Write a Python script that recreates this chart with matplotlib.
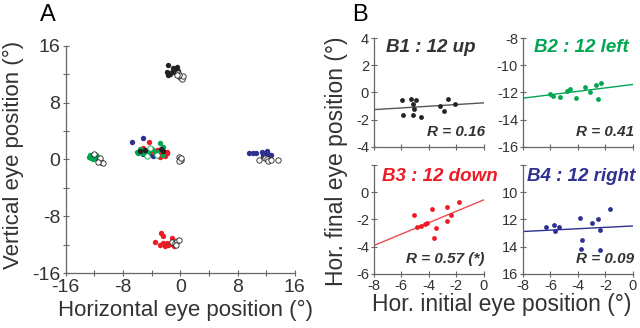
import numpy as np
import matplotlib
matplotlib.use("Agg")
import matplotlib.pyplot as plt

plt.rcParams["font.family"] = ["Liberation Sans", "DejaVu Sans"]
plt.rcParams["axes.unicode_minus"] = False

BLACK = "#222222"
GREEN = "#00a651"
RED = "#ed1c24"
BLUE = "#2e3192"
GREY = "#333333"
SPINE = "#666666"

# ---------------------------------------------------------------- panel A data
# final positions (filled) and target positions (open), per saccade direction
up_x = [-1.65, -1.89, -1.42, -0.95, -0.72, -0.49, -1.19, -1.65, -0.58, -0.26]
up_y = [13.26, 12.33, 12.00, 12.79, 12.56, 13.03, 12.33, 11.86, 12.18, 12.47]
up_tx = [-0.26, -0.02, 0.26, 0.35, -0.12, -0.49]
up_ty = [12.09, 11.53, 11.34, 11.72, 11.81, 11.86]

left_x = [-12.69, -12.51, -12.23, -11.90, -11.67, -11.43, -12.13, -12.60, -11.76, -11.29, -12.37, -11.99]
left_y = [0.37, 0.14, 0.47, 0.28, 0.09, 0.37, 0.00, 0.56, 0.56, 0.09, 0.28, 0.61]
left_tx = [-12.04, -11.29, -11.06, -10.83, -11.20, -11.43]
left_ty = [0.70, -0.09, -0.37, -0.56, 0.14, -0.33]

right_x = [9.66, 10.22, 10.60, 11.39, 11.62, 11.85, 12.09, 11.53, 12.32, 12.65]
right_y = [0.94, 0.84, 0.94, 1.08, 0.75, 0.94, 1.22, 0.47, 0.75, 0.61]
right_tx = [11.06, 11.85, 12.09, 12.32, 12.65, 13.58]
right_ty = [-0.09, 0.14, 0.00, -0.19, -0.09, -0.09]

down_x = [-3.52, -2.68, -2.45, -2.82, -2.35, -1.89, -1.42, -1.19, -0.86, -0.72, -2.12, -1.65]
down_y = [-11.57, -10.40, -10.78, -12.04, -11.81, -11.72, -11.95, -10.97, -12.18, -11.81, -12.18, -12.04]
down_tx = [-1.19, -0.72, -0.40, -0.12, -0.58]
down_ty = [-11.57, -11.72, -11.43, -11.25, -12.04]

fix_tx = [-0.12, 0.00, 0.07, -0.16, 0.12]
fix_ty = [0.37, 0.09, -0.09, -0.19, 0.23]

# initial positions (centre cluster)
init_blue_x = [-6.68, -5.24, -5.15, -4.22, -3.75, -2.59, -3.28, -2.35, -4.68, -1.89, -2.91, -3.98]
init_blue_y = [2.48, 2.95, 0.70, 0.84, 0.47, 0.61, 0.75, 1.08, 1.08, 0.84, 1.22, 1.22]
init_red_x = [-4.31, -5.15, -3.28, -2.59, -1.89, -2.82, -3.75, -4.68, -2.12, -1.79, -3.05, -5.38]
init_red_y = [2.39, 1.55, 1.31, 0.84, 1.08, 0.37, 1.08, 0.84, 0.47, 0.94, 0.84, 1.31]
init_green_x = [-6.08, -5.61, -5.85, -4.91, -4.45, -3.52, -2.82, -2.45, -3.98, -3.28, -2.35, -5.15]
init_green_y = [1.08, 1.41, 0.94, 1.31, 1.08, 0.84, 2.34, 1.78, 1.41, 1.08, 0.61, 0.94]
init_black_x = [-5.61, -4.87, -2.72, -2.45]
init_black_y = [1.22, 1.31, 1.50, 1.22]
init_open_x = [-4.22, -4.68, -3.28]
init_open_y = [1.55, 0.52, 0.61]

# ---------------------------------------------------------------- panel B data
b1_x = [-5.94, -5.91, -5.31, -5.16, -4.96, -5.11, -5.18, -4.55, -3.17, -2.92, -2.57, -2.09]
b1_y = [-0.57, -1.63, -0.47, -0.81, -0.57, -1.18, -1.63, -1.77, -0.96, -1.38, -0.47, -0.81]
b2_x = [-6.06, -5.82, -5.33, -4.80, -4.56, -4.17, -3.52, -3.10, -2.72, -2.55, -2.30]
b2_y = [-12.10, -12.25, -12.32, -11.88, -11.75, -12.37, -11.56, -11.95, -11.46, -12.49, -11.29]
b3_x = [-5.10, -4.89, -4.57, -4.25, -4.11, -3.74, -3.60, -3.47, -2.70, -2.67, -2.36, -1.82]
b3_y = [-1.64, -2.57, -2.50, -2.33, -2.28, -1.27, -3.36, -2.62, -1.10, -2.11, -1.64, -0.71]
b4_x = [-6.30, -5.74, -5.69, -5.36, -3.83, -3.71, -3.78, -3.00, -2.56, -2.39, -2.43, -1.70]
b4_y = [12.57, 12.40, 12.87, 12.57, 11.86, 13.50, 14.17, 12.28, 11.94, 12.75, 14.22, 11.25]

# regression lines (intercept at x=0, slope) as drawn
fit_b1 = (-0.76, 0.0625)
fit_b2 = (-11.41, 0.126)
fit_b3 = (-0.56, 0.42)
fit_b4 = (12.48, -0.051)

titles = ["B1 : 12 up", "B2 : 12 left", "B3 : 12 down", "B4 : 12 right"]
rvals = ["R = 0.16", "R = 0.41", "R = 0.57 (*)", "R = 0.09"]

fig = plt.figure(figsize=(6.4, 3.28), dpi=100)


def style(ax, fs, pad=1.5):
    for s in ("top", "right"):
        ax.spines[s].set_visible(False)
    for s in ("left", "bottom"):
        ax.spines[s].set_color(SPINE)
        ax.spines[s].set_linewidth(0.9)
    ax.tick_params(which="both", direction="inout", length=5, width=0.8,
                   color=SPINE, labelcolor=GREY, labelsize=fs, pad=pad)


# ---------------------------------------------------------------- panel A
axA = fig.add_axes([0.1027, 0.1668, 0.358, 0.694])
style(axA, 14)
kw = dict(s=15, linewidths=0, zorder=3)
ko = dict(s=15, facecolors="white", edgecolors=BLACK, linewidths=0.6, zorder=4)
axA.scatter(up_x, up_y, color=BLACK, **kw)
axA.scatter(up_tx, up_ty, **ko)
axA.scatter(left_x, left_y, color=GREEN, **kw)
axA.scatter(left_tx, left_ty, **ko)
axA.scatter(right_x, right_y, color=BLUE, **kw)
axA.scatter(right_tx, right_ty, **ko)
axA.scatter(down_x, down_y, color=RED, **kw)
axA.scatter(down_tx, down_ty, **ko)
axA.scatter(fix_tx, fix_ty, **ko)
axA.scatter(init_blue_x, init_blue_y, color=BLUE, **kw)
axA.scatter(init_red_x, init_red_y, color=RED, **kw)
axA.scatter(init_green_x, init_green_y, color=GREEN, **kw)
axA.scatter(init_black_x, init_black_y, color=BLACK, **kw)
axA.scatter(init_open_x, init_open_y, s=15, facecolors="white",
            edgecolors=GREEN, linewidths=0.6, zorder=4)
axA.set_xlim(-16, 16)
axA.set_ylim(-16, 16)
axA.set_xticks(np.arange(-16, 17, 8))
axA.set_yticks(np.arange(-16, 17, 8))
axA.set_xticks(np.arange(-12, 13, 8), minor=True)
axA.set_yticks(np.arange(-12, 13, 8), minor=True)

fig.text(186 / 640, 1 - 310 / 328, "Horizontal eye position (°)",
         ha="center", va="center", fontsize=16, color=GREY)
fig.text(13 / 640, 1 - 155 / 328, "Vertical eye position (°)", rotation=90,
         ha="center", va="center", fontsize=16, color=GREY)

# ---------------------------------------------------------------- panel B
pos = [[0.584, 0.552, 0.172, 0.332], [0.817, 0.552, 0.172, 0.332],
       [0.584, 0.165, 0.172, 0.332], [0.817, 0.165, 0.172, 0.332]]
xs = [b1_x, b2_x, b3_x, b4_x]
ys = [b1_y, b2_y, b3_y, b4_y]
fits = [fit_b1, fit_b2, fit_b3, fit_b4]
cols = [BLACK, GREEN, RED, BLUE]
lcols = ["#555555", GREEN, "#f04a50", BLUE]
tcols = [GREY, GREEN, RED, BLUE]
ylims = [(-4, 4), (-16, -8), (-6, 2), (16, 8)]
yticks = [np.arange(-4, 5, 2), np.arange(-16, -7, 2), np.arange(-6, 3, 2), np.arange(8, 17, 2)]
title_x = [0.52, 0.53, 0.60, 0.53]
title_y = [0.91, 0.91, 0.89, 0.89]

for i in range(4):
    ax = fig.add_axes(pos[i])
    style(ax, 10.5, pad=1)
    ax.scatter(xs[i], ys[i], s=12, color=cols[i], linewidths=0, zorder=3)
    xl = np.array([-8, 0])
    b0, b1 = fits[i]
    ax.plot(xl, b0 + b1 * xl, color=lcols[i], lw=1.0, zorder=2)
    ax.set_xlim(-8, 0)
    ax.set_ylim(*ylims[i])
    ax.set_xticks(np.arange(-8, 1, 2))
    ax.set_yticks(yticks[i])
    labs = [str(int(v)) for v in yticks[i]]
    if i == 2:
        labs[-1] = ""
    if i == 3:
        labs[0] = ""
    ax.set_yticklabels(labs)
    if i < 2:
        ax.set_xticklabels([])
    ax.text(title_x[i], title_y[i], titles[i], transform=ax.transAxes, ha="center",
            va="center", fontsize=13.5, fontweight="bold", fontstyle="italic",
            color=tcols[i], zorder=5)
    ax.text(1.01, 0.14, rvals[i], transform=ax.transAxes, ha="right", va="center",
            fontsize=11, fontweight="bold", fontstyle="italic", color=GREY, zorder=5)

fig.text(337 / 640, 1 - 161 / 328, "Hor. final eye position (°)", rotation=90,
         ha="center", va="center", fontsize=16.5, color=GREY)
fig.text(502 / 640, 1 - 304 / 328, "Hor. initial eye position (°)",
         ha="center", va="center", fontsize=16.5, color=GREY)

fig.text(47.6 / 640, 1 - 15 / 328, "A", ha="center", va="center", fontsize=17, color="black")
fig.text(360 / 640, 1 - 15 / 328, "B", ha="center", va="center", fontsize=17, color="black")

fig.savefig("out.png", dpi=100)
